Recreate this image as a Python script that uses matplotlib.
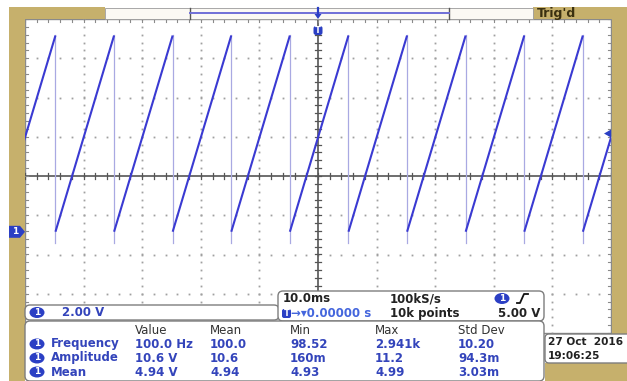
import numpy as np
import matplotlib.pyplot as plt
from matplotlib.patches import Rectangle, FancyBboxPatch, Polygon, Ellipse

# scope settings shown on screen
ms_per_div = 10.0
volts_per_div = 2.0
ch1_ground_div = -1.42   # ground marker position (divisions from centre)
trigger_level = 5.00

# sawtooth: falling edge times (ms from trigger point)
edge_times = [-44.8, -34.8, -24.8, -14.8, -4.8, 5.2, 15.2, 25.2, 35.2, 45.2]
ramp_low = 0.0
ramp_high = 10.0
edge_undershoot = -0.55

# measurement table
meas_cols = ['Value', 'Mean', 'Min', 'Max', 'Std Dev']
meas_names = ['Frequency', 'Amplitude', 'Mean']
meas_value = ['100.0 Hz', '10.6 V', '4.94 V']
meas_mean = ['100.0', '10.6', '4.94']
meas_min = ['98.52', '160m', '4.93']
meas_max = ['2.941k', '11.2', '4.99']
meas_std = ['10.20', '94.3m', '3.03m']

ch1_scale = '2.00 V'
time_scale = '10.0ms'
sample_rate = '100kS/s'
trig_pos = '\u2192\u25be0.00000 s'
rec_len = '10k points'
trig_text = '5.00 V'
date_line = '27 Oct  2016'
time_line = '19:06:25'

W, H = 627, 381
TAN = '#c6b06c'
BLUE = '#2b3fc4'
TRACE = '#3a3ad2'
EDGE = '#a9a9e2'
TXT_BLUE = '#3344bb'

fig = plt.figure(figsize=(W / 100, H / 100), dpi=100)
fig.patch.set_facecolor('white')


def fig_rect(x0, y0, x1, y1):
    return [x0 / W, 1 - y1 / H, (x1 - x0) / W, (y1 - y0) / H]


# ---- graticule / waveform axes ----
ax = fig.add_axes(fig_rect(25, 19, 611, 333))
centre_v = -ch1_ground_div * volts_per_div
x_lo, x_hi = -5 * ms_per_div, 5 * ms_per_div
y_lo, y_hi = centre_v - 4 * volts_per_div, centre_v + 4 * volts_per_div
ax.set_xlim(x_lo, x_hi)
ax.set_ylim(y_lo, y_hi)
ax.axis('off')

px_x = ms_per_div / 58.6     # ms per pixel
px_y = volts_per_div / 39.3  # V per pixel
minor_x = np.arange(x_lo, x_hi + 1e-6, ms_per_div / 5)
minor_y = np.arange(y_lo, y_hi + 1e-6, volts_per_div / 5)
dot = dict(linestyle='none', marker='s', ms=1.3, color='#a0a0a0', mec='none')

for i in range(1, 10):
    if i == 5:
        continue
    xv = x_lo + i * ms_per_div
    ax.plot(np.full_like(minor_y, xv), minor_y, **dot)
for j in range(1, 8):
    if j == 4:
        continue
    yv = y_lo + j * volts_per_div
    ax.plot(minor_x, np.full_like(minor_x, yv), **dot)

# centre cross with ticks
ax.axhline(centre_v, color='#555555', lw=1.2)
ax.axvline(0, color='#555555', lw=1.2)
for xv in minor_x:
    ax.plot([xv, xv], [centre_v - 3 * px_y, centre_v + 3 * px_y], color='#555555', lw=0.9)
    ax.plot([xv, xv], [y_hi, y_hi - 3 * px_y], color='#8a8a8a', lw=0.8)
for yv in minor_y:
    ax.plot([-3 * px_x, 3 * px_x], [yv, yv], color='#555555', lw=0.9)
    ax.plot([x_lo, x_lo + 3 * px_x], [yv, yv], color='#8a8a8a', lw=0.8)
    ax.plot([x_hi, x_hi - 3 * px_x], [yv, yv], color='#8a8a8a', lw=0.8)
ax.add_patch(Rectangle((x_lo, y_lo), x_hi - x_lo, y_hi - y_lo, fill=False,
                       ec='#8a8a8a', lw=1.0, clip_on=False))

# sawtooth waveform
period = edge_times[1] - edge_times[0]
for t in edge_times:
    ax.plot([t, t], [ramp_high, edge_undershoot], color=EDGE, lw=0.9)
for s in [edge_times[0] - period] + edge_times:
    ax.plot([s, s + period], [ramp_low, ramp_high], color=TRACE, lw=1.5,
            solid_capstyle='butt')

# ---- overlay for the scope frame ----
ov = fig.add_axes([0, 0, 1, 1])
ov.set_xlim(0, W)
ov.set_ylim(H, 0)
ov.axis('off')
ov.patch.set_visible(False)

for (x0, y0, x1, y1) in [(9, 7, 25, 381), (9, 7, 105, 19), (533, 7, 627, 19),
                         (612, 7, 627, 381), (545, 363, 627, 381)]:
    ov.add_patch(Rectangle((x0, y0), x1 - x0, y1 - y0, fc=TAN, ec='none'))

# top record bar
ov.add_patch(Rectangle((105, 7.5), 428, 11.5, fc='#fbf9f4', ec='#9a9a9a', lw=0.6))
ov.plot([190, 190], [7.5, 19], color='#555555', lw=1.0)
ov.plot([449, 449], [7.5, 19], color='#555555', lw=1.0)
ov.plot([190, 449], [12.5, 12.5], color='#6f6fd8', lw=1.4)
ov.text(537, 13, "Trig'd", fontsize=9, fontweight='bold', color='#3a3010',
        ha='left', va='center')

# trigger position marker
ov.plot([318, 318], [8, 15], color=BLUE, lw=1.6)
ov.add_patch(Polygon([[314.5, 14], [321.5, 14], [318, 19]], fc=BLUE, ec='none'))
ov.add_patch(FancyBboxPatch((313.5, 26), 9, 9, boxstyle='round,pad=0,rounding_size=2.5',
                            fc=BLUE, ec='none'))
ov.text(318, 30.5, 'T', color='white', fontsize=6, fontweight='bold', ha='center', va='center')

# ground and trigger level markers
gy = 176 - ch1_ground_div * 39.3
ov.add_patch(Polygon([[9, gy - 6], [20, gy - 6], [25, gy], [20, gy + 6], [9, gy + 6]],
                     fc=BLUE, ec='none'))
ov.text(15.5, gy, '1', color='white', fontsize=6.5, fontweight='bold', ha='center', va='center')
ty = 176 - (trigger_level - centre_v) / volts_per_div * 39.3
ov.add_patch(Polygon([[604, ty], [611, ty - 4], [611, ty + 4]], fc=BLUE, ec='none'))


def badge(x, y):
    ov.add_patch(Ellipse((x, y), 15, 11, fc=BLUE, ec='none'))
    ov.text(x, y, '1', color='white', fontsize=6.5, fontweight='bold', ha='center', va='center')


def box(x0, y0, x1, y1, r=5):
    ov.add_patch(FancyBboxPatch((x0, y0), x1 - x0, y1 - y0,
                                boxstyle='round,pad=0,rounding_size=%d' % r,
                                fc='white', ec='#7d7d7d', lw=1.0))


# channel scale box
box(25, 305, 279, 320)
badge(37, 312.5)
ov.text(62, 312.5, ch1_scale, fontsize=8.5, fontweight='bold', color=TXT_BLUE, va='center')

# timebase box
box(278, 291, 544, 321)
fs = 8.5
ov.text(283, 298.5, time_scale, fontsize=fs, fontweight='bold', color='#222222', va='center')
ov.text(390, 298.5, sample_rate, fontsize=fs, fontweight='bold', color='#222222', va='center')
badge(502, 298.5)
ov.plot([517, 520, 524, 528], [303, 303, 294, 294], color='#111111', lw=1.3)
ov.add_patch(FancyBboxPatch((282, 309), 9, 9, boxstyle='round,pad=0,rounding_size=2',
                            fc=BLUE, ec='none'))
ov.text(286.5, 313.5, 'T', color='white', fontsize=6, fontweight='bold', ha='center', va='center')
ov.text(291, 313.5, trig_pos, fontsize=fs, fontweight='bold', color='#4466dd', va='center')
ov.text(390, 313.5, rec_len, fontsize=fs, fontweight='bold', color='#222222', va='center')
ov.text(540, 313.5, trig_text, fontsize=fs, fontweight='bold', color='#222222',
        va='center', ha='right')

# measurement table
box(25, 321, 544, 381)
col_x = [135, 210, 290, 375, 458]
for cx, name in zip(col_x, meas_cols):
    ov.text(cx, 330, name, fontsize=fs, color='#333333', va='center')
row_y = [344, 358, 372]
cols = [meas_value, meas_mean, meas_min, meas_max, meas_std]
for k, ry in enumerate(row_y):
    badge(37, ry)
    ov.text(51, ry, meas_names[k], fontsize=fs, fontweight='bold', color=TXT_BLUE, va='center')
    for cx, col in zip(col_x, cols):
        ov.text(cx, ry, col[k], fontsize=fs, fontweight='bold', color=TXT_BLUE, va='center')

# date box
box(545, 334, 640, 363, r=4)
ov.text(548, 342, date_line, fontsize=7.6, fontweight='bold', color='#222222', va='center')
ov.text(548, 356, time_line, fontsize=7.6, fontweight='bold', color='#222222', va='center')

fig.savefig('out.png', dpi=100)
